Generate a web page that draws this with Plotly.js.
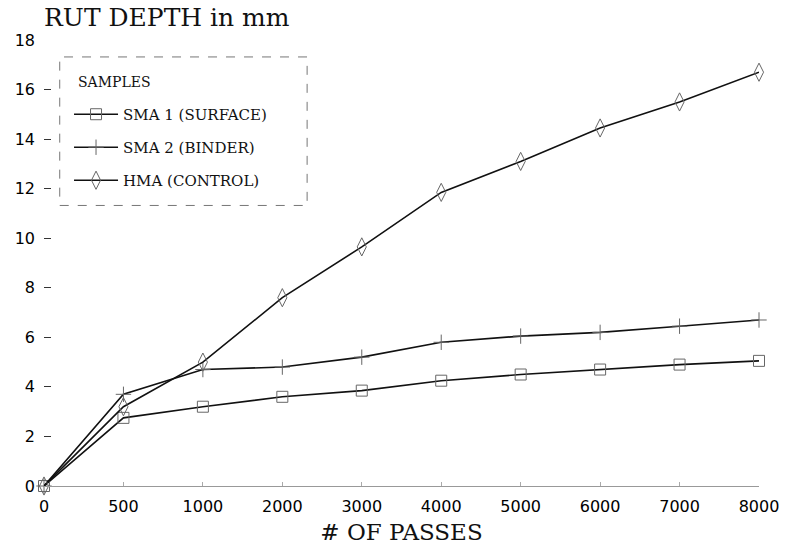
<!DOCTYPE html>
<html>
<head>
<meta charset="utf-8">
<script src="https://cdn.plot.ly/plotly-3.0.1.min.js"></script>
<style>html,body{margin:0;padding:0;background:#fff;}#chart{width:786px;height:555px;}</style>
</head>
<body>
<div id="chart"></div>
<script>
// Data
const passes = ["0", "500", "1000", "2000", "3000", "4000", "5000", "6000", "7000", "8000"];
const sma1Surface = [0, 2.75, 3.2, 3.6, 3.85, 4.25, 4.5, 4.7, 4.9, 5.05];
const sma2Binder  = [0, 3.7, 4.7, 4.8, 5.2, 5.8, 6.05, 6.2, 6.45, 6.7];
const hmaControl  = [0, 3.2, 5.0, 7.6, 9.65, 11.85, 13.1, 14.45, 15.5, 16.7];
const seriesNames = ["SMA 1 (SURFACE)", "SMA 2 (BINDER)", "HMA (CONTROL)"];
const legendTitle = "SAMPLES";
const yTicks = [0, 2, 4, 6, 8, 10, 12, 14, 16, 18];

const xIdx = passes.map((p, i) => i);

function trace(y, name, symbol, size, grp) {
  return {
    x: xIdx, y: y, name: name, type: 'scatter', mode: 'lines+markers',
    legendgroup: grp,
    cliponaxis: false,
    line: {color: '#111', width: 1.6},
    marker: {symbol: symbol, size: size, color: '#666',
             line: {color: '#666', width: 1}}
  };
}

const data = [
  trace(sma1Surface, seriesNames[0], 'square-open', 11, 'a'),
  trace(sma2Binder, seriesNames[1], 'cross-thin-open', 11, 'b'),
  trace(hmaControl, seriesNames[2], 'diamond-tall-open', 13, 'c')
];

const serif = 'DejaVu Serif, serif';

const layout = {
  width: 786, height: 555,
  margin: {l: 44, r: 27, t: 40, b: 69},
  paper_bgcolor: '#fff', plot_bgcolor: '#fff',
  showlegend: true,
  font: {family: 'DejaVu Sans, sans-serif', color: '#111', size: 14},
  xaxis: {
    range: [0, 9], tickmode: 'array', tickvals: xIdx, ticktext: passes,
    showgrid: false, zeroline: false, showline: true, linecolor: '#999', linewidth: 1,
    ticks: 'inside', ticklen: 4, tickcolor: '#aaa', ticklabelstandoff: 6,
    tickfont: {family: 'DejaVu Sans, sans-serif', size: 16, color: '#000'},
    title: {text: '# OF PASSES', font: {family: serif, size: 23, color: '#111'}, standoff: 8}
  },
  yaxis: {
    range: [0, 18], tickmode: 'array', tickvals: yTicks,
    showgrid: false, zeroline: false, showline: false,
    ticks: 'inside', ticklen: 7, tickcolor: '#333', ticklabelstandoff: 8,
    tickfont: {family: 'DejaVu Sans, sans-serif', size: 16, color: '#000'}
  },
  annotations: [{
    text: 'RUT DEPTH in mm', xref: 'paper', yref: 'paper', x: -0.003, y: 1.0,
    xanchor: 'left', yanchor: 'bottom', yshift: 6, showarrow: false,
    font: {family: serif, size: 25, color: '#111'}
  }, {
    text: legendTitle, xref: 'paper', yref: 'paper', x: 0.045, y: (486 - 82) / 446,
    xanchor: 'left', yanchor: 'middle', showarrow: false,
    font: {family: serif, size: 14, color: '#111'}
  }],
  legend: {
    x: 0.035, y: 0.87, xanchor: 'left', yanchor: 'top',
    bgcolor: 'rgba(255,255,255,0)', borderwidth: 0,
    font: {family: serif, size: 15, color: '#111'},
    itemwidth: 44, tracegroupgap: 10.5
  },
  shapes: [{
    type: 'rect', xref: 'paper', yref: 'paper',
    x0: 0.022, x1: 0.368, y0: 0.629, y1: 0.962,
    line: {color: '#777', width: 1, dash: 'dash'}
  }]
};

Plotly.newPlot('chart', data, layout, {displayModeBar: false, staticPlot: true});
</script>
</body>
</html>
